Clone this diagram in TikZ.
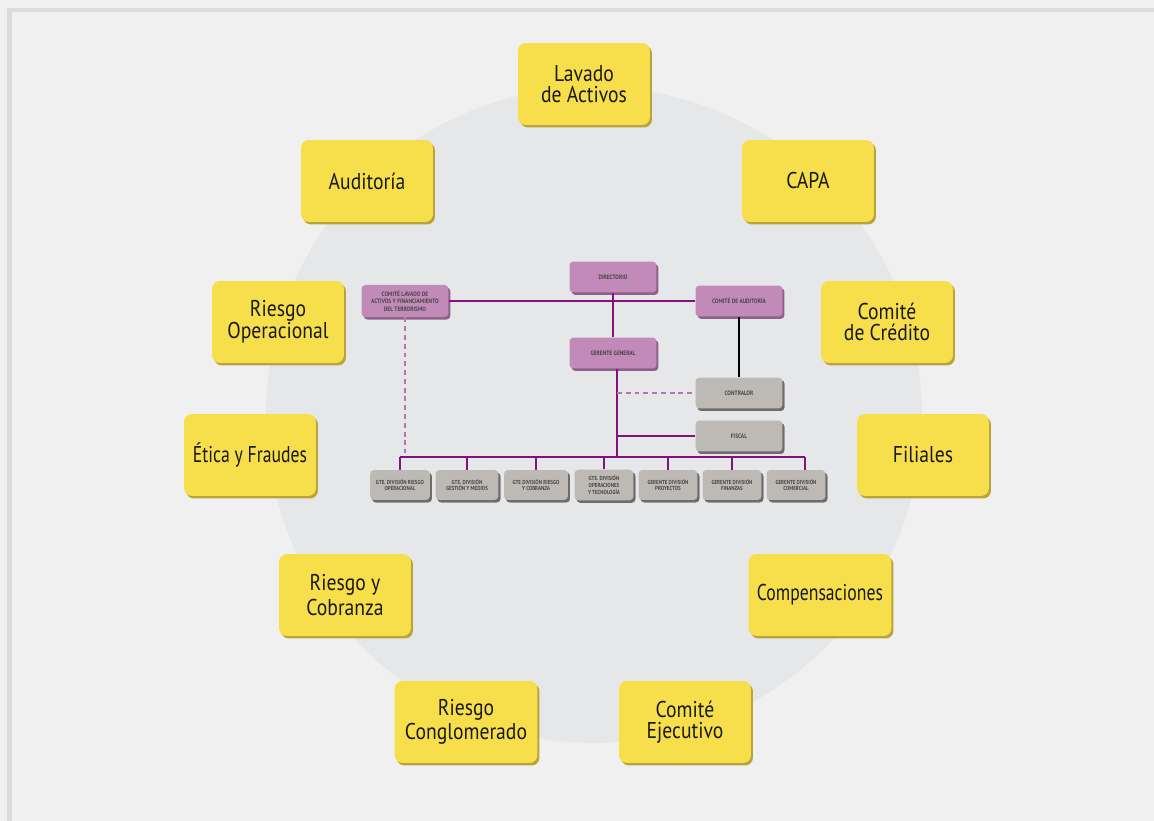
\documentclass[tikz,border=0pt]{standalone}
\usepackage{fontspec}
\usepackage{graphicx}
\setmainfont{PT Sans}[FakeStretch=0.86]
\usetikzlibrary{shadows}

\definecolor{pagegray}{HTML}{F0F0F0}
\definecolor{framegray}{HTML}{D8DDDC}
\definecolor{discgray}{HTML}{E6E7E8}
\definecolor{boxyellow}{HTML}{F7DF4B}
\definecolor{rimyellow}{HTML}{BBA437}
\definecolor{boxpink}{HTML}{C18AB8}
\definecolor{rimpink}{HTML}{8F6189}
\definecolor{boxgray}{HTML}{BDBAB6}
\definecolor{rimgray}{HTML}{6F6D6B}
\definecolor{orgline}{HTML}{85117F}
\definecolor{orgdash}{HTML}{B476AE}
\definecolor{smalltext}{HTML}{4A4548}

\begin{document}
\begin{tikzpicture} [
        x=0.02cm, y=-0.02cm,
        comite/.style={rounded corners=0.16cm, fill=boxyellow, minimum width=2.64cm,
            minimum height=1.64cm, align=center, text=black!90,
            font=\fontsize{13}{12}\selectfont,
            drop shadow={shadow xshift=0.04cm, shadow yshift=-0.05cm, fill=rimyellow, opacity=1}},
        pinkbox/.style={rounded corners=0.08cm, fill=boxpink, minimum width=1.74cm,
            minimum height=0.62cm, align=center, text=smalltext,
            font=\fontsize{3.6}{4.2}\selectfont\bfseries,
            drop shadow={shadow xshift=0.04cm, shadow yshift=-0.05cm, fill=rimpink, opacity=1}},
        graybox/.style={pinkbox, fill=boxgray,
            drop shadow={shadow xshift=0.04cm, shadow yshift=-0.05cm, fill=rimgray, opacity=1}},
        unitbox/.style={graybox, minimum width=1.18cm, minimum height=0.6cm,
            font=\fontsize{3.3}{3.9}\selectfont\bfseries},
        link/.style={draw=orgline, line width=1.1pt},
        thinlink/.style={draw=orgline, line width=0.6pt},
        dashlink/.style={draw=orgdash, line width=0.8pt, dash pattern=on 2.8pt off 2.2pt} ]
    % page, frame and disc
    \useasboundingbox (0,0) rectangle (1154,821);
    \fill[pagegray] (0,0) rectangle (1154,821);
    \fill[framegray] (7,8) rectangle (12,821);
    \fill[framegray] (7,8) rectangle (1154,12);
    \fill[discgray] (594,415) circle [radius=6.56cm];

    % committees round the disc
    \node[comite] (lavado) at (584,84) {Lavado\\de Activos};
    \node[comite] (auditoria) at (367,181) {Auditoría};
    \node[comite] (capa) at (808,181) {CAPA};
    \node[comite, font=\fontsize{13}{12.6}\selectfont] (riesgoop) at (278,322) {Riesgo\\Operacional};
    \node[comite] (credito) at (887,322) {Comité\\de Crédito};
    \node[comite] (etica) at (250,455) {\scalebox{0.9}[1]{Ética y Fraudes}};
    \node[comite] (filiales) at (923,455) {Filiales};
    \node[comite, font=\fontsize{13}{14}\selectfont] (cobranza) at (345,595) {Riesgo y\\Cobranza};
    \node[comite, minimum width=2.86cm] (compens) at (820,595) {\scalebox{0.9}[1]{Compensaciones}};
    \node[comite, minimum width=2.86cm, font=\fontsize{13}{14}\selectfont] (conglom) at (466,722) {Riesgo\\Conglomerado};
    \node[comite] (ejecutivo) at (685,722) {Comité\\Ejecutivo};

    % org chart
    \node[pinkbox] (dir) at (613,277) {DIRECTORIO};
    \node[pinkbox] (cla) at (405,301) {COMITÉ LAVADO DE\\ACTIVOS Y FINANCIAMIENTO\\DEL TERRORISMO};
    \node[pinkbox] (cau) at (739,301) {COMITÉ DE AUDITORÍA};
    \node[pinkbox] (gg) at (613,353) {GERENTE GENERAL};
    \node[graybox] (contr) at (739,393) {CONTRALOR};
    \node[graybox] (fisc) at (739,436) {FISCAL};

    \node[unitbox] (b1) at (400,485) {GTE. DIVISIÓN RIESGO\\OPERACIONAL};
    \node[unitbox, minimum width=1.26cm] (b2) at (467,485) {GTE. DIVISIÓN\\GESTIÓN Y MEDIOS};
    \node[unitbox, minimum width=1.28cm] (b3) at (536,485) {GTE DIVISIÓN RIESGO\\Y COBRANZA};
    \node[unitbox] (b4) at (604,485) {GTE. DIVISIÓN\\OPERACIONES\\Y TECNOLOGÍA};
    \node[unitbox] (b5) at (668,485) {GERENTE DIVISIÓN\\PROYECTOS};
    \node[unitbox] (b6) at (732,485) {GERENTE DIVISIÓN\\FINANZAS};
    \node[unitbox] (b7) at (796,485) {GERENTE DIVISIÓN\\COMERCIAL};

    \coordinate (bus) at (617,457);

    \draw[thinlink] (cla.east) -- (cau.west);
    \draw[link] (dir.south) -- (gg.north);
    \draw[black, line width=1.1pt] (cau.south) -- (contr.north);
    \draw[link] (gg.south -| bus) -- (bus);
    \draw[dashlink] (contr.west -| bus) -- (contr.west);
    \draw[link] (fisc.west -| bus) -- (fisc.west);
    \draw[dashlink] (cla.south) -- ([yshift=0.08cm]cla.south |- bus);
    \draw[link] (b1.north |- bus) -- ([xshift=0.18cm]b7.north |- bus);
    \foreach \b in {b1,b2,b3,b4,b5,b6}
        \draw[link] (\b.north) -- (\b.north |- bus);
    \draw[link] ([xshift=0.18cm]b7.north) -- ([xshift=0.18cm]b7.north |- bus);
    \end{tikzpicture}
\end{document}
